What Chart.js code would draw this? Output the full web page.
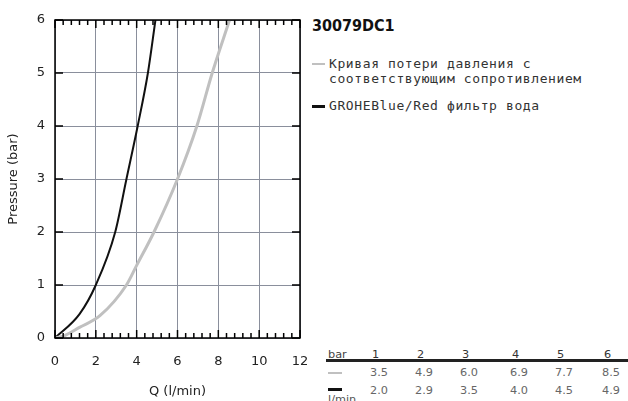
<!DOCTYPE html>
<html>
<head>
<meta charset="utf-8">
<script src="https://cdn.jsdelivr.net/npm/chart.js@4"></script>
<style>
  body { margin: 0; background: #fff; width: 628px; height: 401px; overflow: hidden; position: relative; font-family: "DejaVu Sans", sans-serif; }
  #chart-box { position: absolute; left: 0; top: 0; width: 310px; height: 401px; }
  #title { position: absolute; left: 312px; top: 16px; font-family: "DejaVu Sans Condensed", "DejaVu Sans", sans-serif; font-weight: bold; font-size: 16px; line-height: 19px; color: #111; }
  .legend-item { position: absolute; left: 312px; font-family: "DejaVu Sans Mono", monospace; font-size: 13px; letter-spacing: 0.6px; color: #333; line-height: 15px; }
  .legend-item .swatch { position: absolute; left: 0; top: 7px; width: 13px; height: 2px; }
  .legend-item .text { margin-left: 17px; white-space: pre; }
  #table { position: absolute; left: 326px; top: 346px; width: 302px; font-size: 11.3px; color: #444; }
  .row { position: relative; height: 18px; }
  .cell { position: absolute; top: 2px; }
  #rule { position: absolute; left: 0; top: 13px; width: 302px; height: 3px; background: #222; }
</style>
</head>
<body>
<div id="chart-box"><canvas id="pressureChart"></canvas></div>
<div id="title"></div>
<div id="legend"></div>
<div id="table"></div>
<script>
const productCode = "30079DC1";
const xTitle = "Q (l/min)";
const yTitle = "Pressure (bar)";
const seriesNames = ["Кривая потери давления с\nсоответствующим сопротивлением", "GROHEBlue/Red фильтр вода"];
const seriesColors = ["#c0c0c0", "#111111"];

// curve points (Q, bar)
const grayQ = [0, 0.5, 1.2, 2.2, 3.5, 4.0, 4.85, 6.0, 6.95, 7.7, 8.55];
const grayP = [0, 0.05, 0.2, 0.42, 1, 1.37, 2, 3, 4, 5, 6];
const blackQ = [0, 1.2, 2.0, 2.95, 3.5, 4.05, 4.55, 4.92];
const blackP = [0, 0.45, 1, 2, 3, 4, 5, 6];

// table below the legend
const tableBar = ["1", "2", "3", "4", "5", "6"];
const tableGray = ["3.5", "4.9", "6.0", "6.9", "7.7", "8.5"];
const tableBlack = ["2.0", "2.9", "3.5", "4.0", "4.5", "4.9"];

const toPoints = (xs, ys) => xs.map((x, i) => ({ x: x, y: ys[i] }));

// frame, minor ticks and inner major ticks
const framePlugin = {
  id: "frame",
  afterDraw(chart) {
    const ctx = chart.ctx;
    const a = chart.chartArea;
    const xs = chart.scales.x;
    const ys = chart.scales.y;
    ctx.save();
    ctx.fillStyle = "#000";
    for (let i = 0; i <= 30; i++) {
      const px = xs.getPixelForValue(i * 0.4);
      const len = i % 5 === 0 ? 8 : 5;
      ctx.fillRect(px - 0.75, a.bottom - len, 1.5, len);
      ctx.fillRect(px - 0.75, a.top, 1.5, len);
    }
    for (let v = 0; v <= 6; v++) {
      const py = ys.getPixelForValue(v);
      ctx.fillRect(a.left, py - 0.75, 8, 1.5);
      ctx.fillRect(a.right - 8, py - 0.75, 8, 1.5);
    }
    ctx.strokeStyle = "#000";
    ctx.lineWidth = 1.5;
    ctx.strokeRect(a.left, a.top, a.right - a.left, a.bottom - a.top);
    ctx.restore();
  }
};

new Chart(document.getElementById("pressureChart"), {
  type: "scatter",
  data: {
    datasets: [
      {
        label: "gray",
        data: toPoints(grayQ, grayP),
        showLine: true,
        borderColor: seriesColors[0],
        borderWidth: 3,
        pointRadius: 0,
        cubicInterpolationMode: "monotone"
      },
      {
        label: "black",
        data: toPoints(blackQ, blackP),
        showLine: true,
        borderColor: seriesColors[1],
        borderWidth: 2,
        pointRadius: 0,
        cubicInterpolationMode: "monotone"
      }
    ]
  },
  options: {
    responsive: true,
    maintainAspectRatio: false,
    animation: false,
    layout: { padding: { top: 20, right: 10, left: 0, bottom: 0 } },
    plugins: { legend: { display: false }, tooltip: { enabled: false } },
    scales: {
      x: {
        type: "linear",
        min: 0,
        max: 12,
        ticks: { stepSize: 2, color: "#222", font: { family: "DejaVu Sans", size: 13 }, padding: 16 },
        grid: { color: "#8a8f9c", drawTicks: false },
        border: { display: false },
        title: { display: true, text: xTitle, color: "#222", font: { family: "DejaVu Sans", size: 13 }, padding: { top: 4, bottom: 2 } },
        afterFit(scale) {
          scale.height = 63;
          scale.paddingLeft = 0;
          scale.paddingRight = 0;
        }
      },
      y: {
        type: "linear",
        min: 0,
        max: 6,
        ticks: { stepSize: 1, color: "#222", font: { family: "DejaVu Sans", size: 13 }, padding: 10 },
        grid: { color: "#8a8f9c", drawTicks: false },
        border: { display: false },
        title: { display: true, text: yTitle, color: "#222", font: { family: "DejaVu Sans", size: 13 }, padding: { bottom: 4, top: 6 } },
        afterFit(scale) { scale.width = 55; }
      }
    }
  },
  plugins: [framePlugin]
});

// title + legend
document.getElementById("title").textContent = productCode;
const legend = document.getElementById("legend");
const legendTops = [56, 98];
seriesNames.forEach((name, i) => {
  const item = document.createElement("div");
  item.className = "legend-item";
  item.style.top = legendTops[i] + "px";
  const sw = document.createElement("div");
  sw.className = "swatch";
  sw.style.background = seriesColors[i];
  if (i === 1) sw.style.height = "3px";
  const tx = document.createElement("div");
  tx.className = "text";
  tx.textContent = name;
  item.appendChild(sw);
  item.appendChild(tx);
  legend.appendChild(item);
});

// table
const table = document.getElementById("table");
const colLeft = [44, 89, 134, 184, 229, 276];
function addRow(first, values, color, shift) {
  const row = document.createElement("div");
  row.className = "row";
  if (typeof first === "string") {
    const c = document.createElement("div");
    c.className = "cell";
    c.style.left = "2px";
    c.textContent = first;
    row.appendChild(c);
  } else {
    const sw = document.createElement("div");
    sw.className = "cell";
    sw.style.left = "2px";
    sw.style.top = first.top + "px";
    sw.style.width = "14px";
    sw.style.height = first.h + "px";
    sw.style.background = first.color;
    row.appendChild(sw);
  }
  values.forEach((v, i) => {
    const c = document.createElement("div");
    c.className = "cell";
    c.style.left = (colLeft[i] + shift) + "px";
    c.style.color = color;
    c.textContent = v;
    row.appendChild(c);
  });
  table.appendChild(row);
}
addRow("bar", tableBar, "#333", 2);
addRow({ color: seriesColors[0], h: 2, top: 8 }, tableGray, "#666", 0);
addRow({ color: seriesColors[1], h: 3, top: 6 }, tableBlack, "#666", 0);
const rule = document.createElement("div");
rule.id = "rule";
table.appendChild(rule);
const unit = document.createElement("div");
unit.className = "cell";
unit.style.left = "2px";
unit.style.top = "47px";
unit.style.color = "#555";
unit.textContent = "l/min";
table.appendChild(unit);
</script>
</body>
</html>
